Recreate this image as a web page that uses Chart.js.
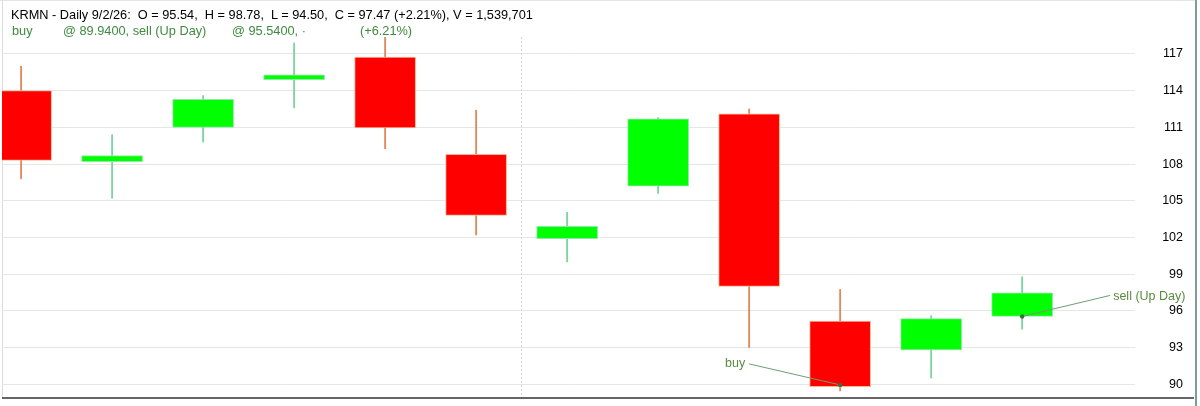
<!DOCTYPE html>
<html><head><meta charset="utf-8">
<script src="https://cdn.jsdelivr.net/npm/chart.js@4.4.1/dist/chart.umd.min.js"></script>
<style>
html,body{margin:0;padding:0;background:#fff;overflow:hidden}
#wrap{position:relative;width:1200px;height:406px}
canvas{position:absolute;left:0;top:0}
.hdr{position:absolute;font-family:"Liberation Sans",Arial,sans-serif;font-size:12.75px;white-space:pre;line-height:16px}
.g{color:#3f8a3f}
</style></head><body>
<div id="wrap">
<canvas id="c" width="1200" height="406"></canvas>
<div class="hdr" style="left:11px;top:7px;color:#000">KRMN - Daily 9/2/26:  O = 95.54,  H = 98.78,  L = 94.50,  C = 97.47 (+2.21%), V = 1,539,701</div>
<div class="hdr g" style="left:12px;top:23px">buy</div>
<div class="hdr g" style="left:63px;top:23px">@ 89.9400, sell (Up Day)</div>
<div class="hdr g" style="left:232px;top:23px">@ 95.5400, ·</div>
<div class="hdr g" style="left:360px;top:23px">(+6.21%)</div>
</div>
<script>
const dates  = ['8/18','8/19','8/20','8/21','8/24','8/25','8/26','8/27','8/28','8/31','9/1','9/2'];
const opens  = [114.0, 108.2, 111.0, 114.9, 116.75, 108.8, 101.9, 106.2, 112.1, 95.15, 92.8, 95.54];
const highs  = [116.0, 110.4, 113.6, 117.9, 118.6, 112.4, 104.05, 111.8, 112.5, 97.75, 95.6, 98.78];
const lows   = [106.8, 105.2, 109.8, 112.6, 109.25, 102.2, 100.0, 105.6, 93.0, 89.45, 90.5, 94.50];
const closes = [108.3, 108.7, 113.3, 115.3, 110.95, 103.8, 102.9, 111.7, 98.0, 89.8, 95.36, 97.47];
const yTicks = [90, 93, 96, 99, 102, 105, 108, 111, 114, 117];
const tradeLabels = ['buy', 'sell (Up Day)'];
const tradeIdx    = [9, 11];
const tradePrice  = [89.94, 95.54];

const up = closes.map((c,i)=>c>=opens[i]);
const bodyFill   = up.map(u=>u?'#00ff00':'#ff0000');
const bodyBorder = up.map(u=>u?'#8fe8a8':'#f6b894');
const wickColor  = up.map(u=>u?'#7fd3a0':'#df8a5a');

const frame = {
  id:'frame',
  beforeDraw(chart){
    const c=chart.ctx; c.save();
    c.strokeStyle='#e4e4e4'; c.lineWidth=1;
    c.beginPath(); c.moveTo(0,0.5); c.lineTo(1195,0.5); c.stroke();
    c.strokeStyle='#dcdcd6';
    c.beginPath(); c.moveTo(2.5,0); c.lineTo(2.5,398); c.stroke();
    c.restore();
  },
  afterDatasetsDraw(chart){
    const c=chart.ctx, xs=chart.scales.x, ys=chart.scales.y;
    c.save();
    c.font='12.5px "Liberation Sans", Arial, sans-serif';
    c.textBaseline='middle';
    tradeIdx.forEach((ti,k)=>{
      const px=xs.getPixelForValue(ti), py=ys.getPixelForValue(tradePrice[k]);
      const right = k===1;
      const lx = right? px+88 : px-91, ly = py-21;
      c.strokeStyle='#6e9c72'; c.lineWidth=1;
      c.beginPath(); c.moveTo(lx,ly); c.lineTo(px,py); c.stroke();
      c.fillStyle='#3d6e3d';
      c.beginPath(); c.arc(px,py,2.2,0,Math.PI*2); c.fill();
      c.fillStyle='#5a8a40';
      c.textAlign = right?'left':'right';
      c.fillText(tradeLabels[k], right? px+91 : px-95, right? py-20 : py-21);
    });
    c.strokeStyle='#333'; c.lineWidth=1.5;
    c.beginPath(); c.moveTo(2,398); c.lineTo(1194,398); c.stroke();
    c.strokeStyle='#7e9e90'; c.lineWidth=2;
    c.beginPath(); c.moveTo(1196,0); c.lineTo(1196,406); c.stroke();
    c.restore();
  }
};

new Chart(document.getElementById('c'), {
  type:'bar',
  data:{
    labels: dates,
    datasets:[
      { label:'body', order:0, grouped:false,
        data: opens.map((o,i)=>({x:i, y:[o, closes[i]]})),
        backgroundColor: bodyFill, borderColor: bodyBorder, borderWidth:1, borderSkipped:false,
        barThickness:61 },
      { label:'wick', order:1, grouped:false,
        data: lows.map((l,i)=>({x:i, y:[l, highs[i]]})),
        backgroundColor: wickColor, borderWidth:0, barThickness:1.2 }
    ]
  },
  options:{
    responsive:false, animation:false, devicePixelRatio:1,
    layout:{padding:{left:2, top:37, right:17, bottom:8}},
    plugins:{legend:{display:false}, tooltip:{enabled:false}},
    scales:{
      x:{ type:'linear', min:-0.21, max:12.24, offset:false,
        afterBuildTicks:s=>{ s.ticks=[{value:5.5}]; },
        afterFit:s=>{ s.height=0; },
        ticks:{display:false},
        grid:{color:'#d6d6c8', drawTicks:false, offset:false},
        border:{display:false, dash:[2,2]} },
      y:{ type:'linear', position:'right', min:88.87, max:118.39,
        afterBuildTicks:s=>{ s.ticks=yTicks.map(v=>({value:v})); },
        afterFit:s=>{ s.width=48; },
        ticks:{ color:'#000', padding:0, crossAlign:'far',
          font:{family:'"Liberation Sans", Arial, sans-serif', size:12.5} },
        grid:{color:'#e6e6e6', drawTicks:false},
        border:{display:false} }
    }
  },
  plugins:[frame]
});
</script>
</body></html>
